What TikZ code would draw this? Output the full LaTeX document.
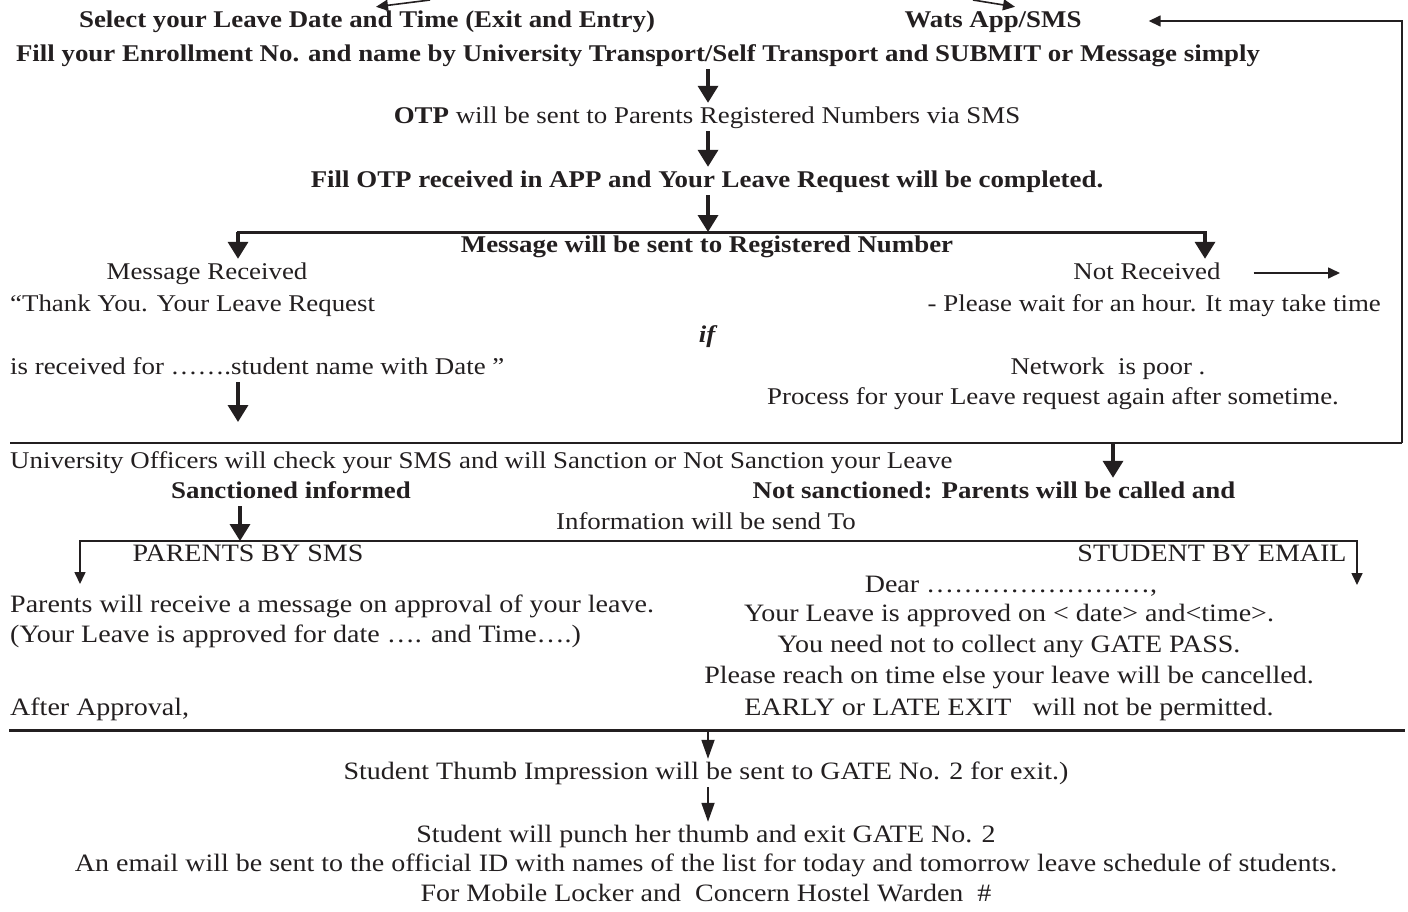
\documentclass[tikz,border=0pt]{standalone}
\usepackage{fontspec}
\setmainfont{Liberation Serif}[FakeStretch=1.12]
\usetikzlibrary{arrows.meta}
\definecolor{ink}{HTML}{231F20}

\begin{document}
\begin{tikzpicture}[
		x=1pt, y=-1pt,
		txt/.style = {inner sep=3pt, text height=17pt, text depth=5pt, text=ink, font=\fontsize{24pt}{28pt}\selectfont},
		btxt/.style = {txt, font=\fontsize{24pt}{28pt}\selectfont\bfseries},
		wtxt/.style = {txt, anchor=west},
		etxt/.style = {txt, anchor=east},
		low/.style = {txt, font=\fontsize{25pt}{29pt}\selectfont},
		wlow/.style = {low, anchor=west},
		big/.style = {draw=ink, line width=3.5pt, -{Triangle[length=17pt, width=20pt]}},
		thin/.style = {draw=ink, line width=1.6pt, -{Triangle[length=12pt, width=11pt]}},
		lean/.style = {draw=ink, line width=1.8pt, -{Triangle[length=19pt, width=13pt]}},
		bar/.style = {draw=ink, line width=3pt, line cap=rect},
		rule/.style = {draw=ink, line width=1.4pt}
	]
	\useasboundingbox (0,0) rectangle (1408,911);
	\node[btxt] (sel) at (367,21) {Select your Leave Date and Time (Exit and Entry)};
	\node[btxt] (wats) at (993,21) {Wats App/SMS};
	\node[btxt] (fill) at (638,55) {Fill your Enrollment No. and name by University Transport/Self Transport and SUBMIT or Message simply};
	\node[txt] (otp) at (707,117) {\textbf{OTP} will be sent to Parents Registered Numbers via SMS};
	\node[btxt] (fillotp) at (707,181) {Fill OTP received in APP and Your Leave Request will be completed.};
	\node[btxt] (msg) at (707,246) {Message will be sent to Registered Number};
	\node[txt] (rec) at (207,273) {Message Received};
	\node[wtxt] (thank) at (7,305) {“Thank You. Your Leave Request};
	\node[txt, font=\fontsize{24pt}{28pt}\selectfont\bfseries\itshape] (iff) at (707,336) {if};
	\node[wtxt] (recfor) at (7,368) {is received for …….student name with Date ”};
	\node[txt] (notrec) at (1147,273) {Not Received};
	\node[etxt] (wait) at (1384,305) {- Please wait for an hour. It may take time};
	\node[txt] (net) at (1108,368) {Network\ \ is poor\ .};
	\node[txt] (again) at (1053,398) {Process for your Leave request again after sometime.};
	\node[wtxt] (officers) at (7,462) {University Officers will check your SMS and will Sanction or Not Sanction your Leave};
	\node[btxt] (sanc) at (291,492) {Sanctioned informed};
	\node[btxt] (notsanc) at (994,492) {Not sanctioned: Parents will be called and};
	\node[txt] (info) at (706,523) {Information will be send To};
	\node[low] (parents) at (248,555) {PARENTS BY SMS};
	\node[low] (student) at (1212,555) {STUDENT BY EMAIL};
	\node[low] (dear) at (1011,586) {Dear ……………………,};
	\node[wlow] (pmsg) at (7,606) {Parents will receive a message on approval of your leave.};
	\node[wlow] (papp) at (7,636) {(Your Leave is approved for date …. and Time….)};
	\node[low] (approved) at (1009,615) {Your Leave is approved on < date> and<time>.};
	\node[low] (gatepass) at (1009,646) {You need not to collect any GATE PASS.};
	\node[low] (reach) at (1009,677) {Please reach on time else your leave will be cancelled.};
	\node[wlow] (after) at (7,709) {After Approval,};
	\node[low] (early) at (1009,709) {EARLY or LATE EXIT\ \ \ will not be permitted.};
	\node[low] (thumb) at (706,773) {Student Thumb Impression will be sent to GATE No. 2 for exit.)};
	\node[low] (punch) at (706,836) {Student will punch her thumb and exit GATE No. 2};
	\node[low] (email) at (706,865) {An email will be sent to the official ID with names of the list for today and tomorrow leave schedule of students.};
	\node[low] (locker) at (706,895) {For Mobile Locker and\ \ Concern Hostel Warden\ \ \#};
	\coordinate (selfrom) at (430,0);
	\coordinate (watsfrom) at (973,0);
	\coordinate (b1) at (708,232);
	\coordinate (b1L) at (238,232);
	\coordinate (b1R) at (1205,232);
	\coordinate (nrto) at (1340,273);
	\coordinate (recdown) at (238,422);
	\coordinate (boxL) at (10,443);
	\coordinate (boxR) at (1402,443);
	\coordinate (boxA) at (1113,443);
	\coordinate (b2) at (240,541);
	\coordinate (b2L) at (80,541);
	\coordinate (b2R) at (1357,541);
	\coordinate (pdown) at (80,584);
	\coordinate (sdown) at (1357,585);
	\coordinate (gL) at (10,730);
	\coordinate (gR) at (1403,730);
	\coordinate (g) at (708,730);
	\draw[thin] (selfrom) -- ([xshift=9pt]sel.north);
	\draw[thin] (watsfrom) -- ([xshift=22pt]wats.north);
	\draw[big] (fill.south -| b1) -- (b1 |- otp.north);
	\draw[big] (otp.south -| b1) -- (b1 |- fillotp.north);
	\draw[big] (fillotp.south -| b1) -- (b1);
	\draw[bar] (b1L) -- (b1R);
	\draw[big] (b1L) -- (b1L |- rec.north);
	\draw[big] (b1R) -- (b1R |- notrec.north);
	\draw[thin] ([xshift=30pt]notrec.east) -- (nrto);
	\draw[big] (recfor.south -| recdown) -- (recdown);
	\draw[rule] (boxL) -- (boxR);
	\draw[thin, shorten >=64pt] (boxR) |- (wats.east);
	\draw[big] (boxA) -- (boxA |- notsanc.north);
	\draw[big] (sanc.south -| b2) -- (b2);
	\draw[bar, line width=2.5pt] (b2L) -- (b2R);
	\draw[thin] (b2L) -- (pdown);
	\draw[thin] (b2R) -- (sdown);
	\draw[bar] (gL) -- (gR);
	\draw[lean] (g) -- (g |- thumb.north);
	\draw[lean] (thumb.south -| g) -- (g |- punch.north);
\end{tikzpicture}
\end{document}
